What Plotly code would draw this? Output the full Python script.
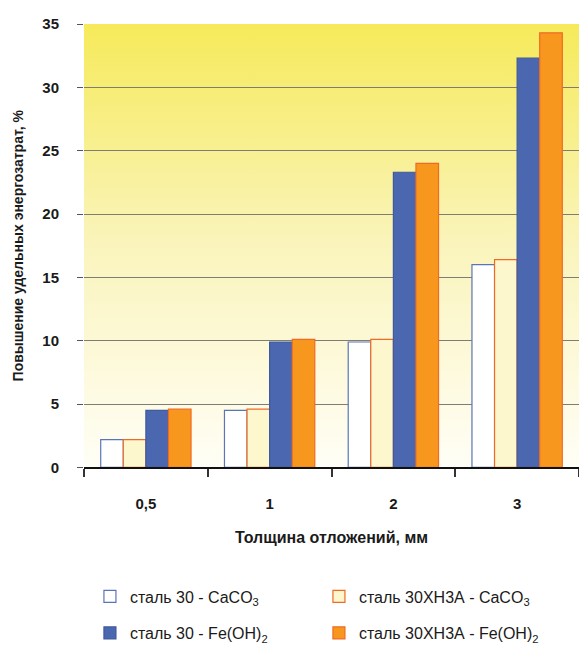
import base64
import plotly.graph_objects as go

categories = ["0,5", "1", "2", "3"]
series_names = [
    "сталь 30 - CaCO<sub>3</sub>",
    "сталь 30ХН3А - CaCO<sub>3</sub>",
    "сталь 30 - Fe(OH)<sub>2</sub>",
    "сталь 30ХН3А - Fe(OH)<sub>2</sub>",
]
steel30_caco3 = [2.2, 4.5, 9.9, 16.0]
steel30hn3a_caco3 = [2.2, 4.6, 10.1, 16.4]
steel30_feoh2 = [4.5, 9.9, 23.3, 32.3]
steel30hn3a_feoh2 = [4.6, 10.1, 24.0, 34.3]
y_ticks = [0, 5, 10, 15, 20, 25, 30, 35]

series_values = [steel30_caco3, steel30hn3a_caco3, steel30_feoh2, steel30hn3a_feoh2]
fills = ["#FFFFFF", "#FCF7CD", "#4A67AF", "#F8971D"]
borders = ["#5A74B8", "#F06A25", "#3F5A9E", "#F06A25"]
legends = ["legend", "legend", "legend2", "legend2"]

FONT = "Liberation Sans, Arial, sans-serif"
W, H = 579, 650
T, B_PLOT = 24, 471  # top of plot, bottom of plot (px)
paper_h = H - T

fig = go.Figure()
for name, vals, fc, bc, lg in zip(series_names, series_values, fills, borders, legends):
    fig.add_trace(go.Bar(
        x=categories, y=vals, name=name,
        marker=dict(color=fc, line=dict(color=bc, width=1.2)),
        legend=lg,
    ))

svg = ('<svg xmlns="http://www.w3.org/2000/svg" width="100" height="100" preserveAspectRatio="none">'
       '<defs><linearGradient id="g" x1="0" y1="0" x2="0" y2="1">'
       '<stop offset="0" stop-color="#F6EA5A"/>'
       '<stop offset="0.5" stop-color="#FAF4BC"/>'
       '<stop offset="1" stop-color="#FFFEF6"/>'
       '</linearGradient></defs>'
       '<rect width="100" height="100" fill="url(#g)"/></svg>')
uri = "data:image/svg+xml;base64," + base64.b64encode(svg.encode()).decode()

def ly(px):
    return (H - px) / paper_h

leg_common = dict(
    orientation="h", x=0.012, xanchor="left", yanchor="middle",
    entrywidth=184, entrywidthmode="pixels",
    font=dict(size=16, family=FONT), bgcolor="rgba(0,0,0,0)",
)

fig.update_layout(
    width=W, height=H,
    margin=dict(l=84, r=0, t=T, b=0),
    paper_bgcolor="white",
    plot_bgcolor="rgba(0,0,0,0)",
    barmode="group",
    bargap=0.27,
    bargroupgap=0,
    font=dict(family=FONT, color="#1a1a1a"),
    images=[dict(source=uri, xref="x domain", yref="y domain", x=0, y=1, sizex=1, sizey=1,
                 sizing="stretch", layer="below", xanchor="left", yanchor="top")],
    xaxis=dict(
        type="category",
        tickson="boundaries",
        ticks="outside", ticklen=8, tickcolor="#333", tickwidth=1.5,
        showline=True, linecolor="#111", linewidth=1.5,
        tickfont=dict(size=15, weight="bold", family=FONT),
        ticklabelstandoff=22,
        title=dict(text="Толщина отложений, мм", font=dict(size=16, weight="bold", family=FONT), standoff=21),
        automargin=False,
    ),
    yaxis=dict(
        domain=[ly(B_PLOT), 1],
        range=[0, 35],
        tickvals=y_ticks,
        ticks="outside", ticklen=6, tickcolor="#555",
        showgrid=True, gridcolor="#7d7d74", gridwidth=1,
        showline=False, zeroline=False,
        tickfont=dict(size=15, weight="bold", family=FONT),
        ticklabelstandoff=15,
        title=dict(text="Повышение удельных энергозатрат, %", font=dict(size=14, weight="bold", family=FONT), standoff=15),
        automargin=False,
    ),
    legend=dict(y=ly(601), **leg_common),
    legend2=dict(y=ly(638), **leg_common),
    showlegend=True,
)

fig.write_html("out.html", config={"displayModeBar": False},
               post_script="document.body.style.margin='0';")
